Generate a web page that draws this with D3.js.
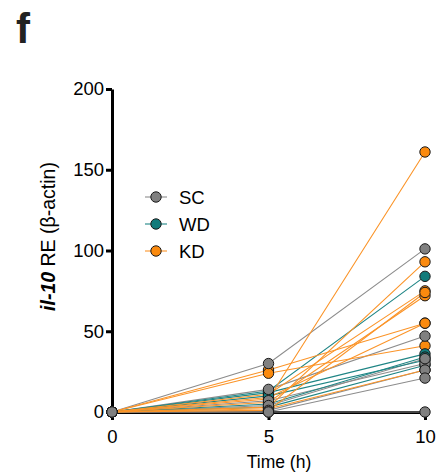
<!DOCTYPE html>
<html>
<head>
<meta charset="utf-8">
<script src="https://cdn.jsdelivr.net/npm/d3@7"></script>
<style>
  html, body { margin: 0; padding: 0; background: #fff; }
  svg { display: block; font-family: "Liberation Sans", Arial, sans-serif; }
</style>
</head>
<body>
<svg id="chart" width="440" height="476"></svg>
<script>
// ---- data ----
const timepoints = [0, 5, 10];
const xTickValues = [0, 5, 10];
const yTickValues = [0, 50, 100, 150, 200];
const groups = ["SC", "WD", "KD"];
// each subject: values at 0 h, 5 h, 10 h
const scSeries = [
  [0, 30, 101], [0, 14, 47], [0, 7, 30], [0, 4, 33],
  [0, 1, 26], [0, 0, 21], [0, 0, 0]
];
const wdSeries = [
  [0, 13, 84], [0, 12, 36], [0, 10, 32], [0, 5, 34], [0, 3, 29]
];
const kdSeries = [
  [0, 8, 161], [0, 3, 93], [0, 11, 75], [0, 6, 72], [0, 26, 55],
  [0, 24, 41], [0, 9, 55], [0, 2, 26], [0, 1, 74]
];

const seriesByGroup = { SC: scSeries, WD: wdSeries, KD: kdSeries };
const markerFill = { SC: "#808080", WD: "#127b7b", KD: "#fb8a0e" };
const lineColor = { SC: "#8c8c8c", WD: "#1f8585", KD: "#fb9428" };

const svg = d3.select("#chart");
const x = d3.scaleLinear().domain([0, 10]).range([112, 425]);
const y = d3.scaleLinear().domain([0, 200]).range([412, 89]);

// panel label
svg.append("text").attr("x", 16).attr("y", 43)
  .attr("font-size", 42).attr("font-weight", "bold").attr("fill", "#222").text("f");

// axes
const yAxis = svg.append("g").attr("transform", `translate(${x(0)},0)`)
  .call(d3.axisLeft(y).tickValues(yTickValues).tickSize(6).tickSizeOuter(0).tickPadding(2).tickFormat(d3.format("d")));
const xAxis = svg.append("g").attr("transform", `translate(0,${y(0)})`)
  .call(d3.axisBottom(x).tickValues(xTickValues).tickSize(8).tickSizeOuter(0).tickPadding(10).tickFormat(d3.format("d")));
[yAxis, xAxis].forEach(g => {
  g.select(".domain").attr("stroke", "#000").attr("stroke-width", 3);
  g.selectAll(".tick line").attr("stroke", "#000").attr("stroke-width", 3);
  g.selectAll(".tick text").attr("font-size", 18.5).attr("fill", "#000")
    .attr("font-family", "'Liberation Sans', Arial, sans-serif");
});
xAxis.selectAll(".tick text").attr("dy", "0.71em");

// axis titles
svg.append("text").attr("x", 279).attr("y", 468).attr("text-anchor", "middle")
  .attr("font-size", 17.5).attr("fill", "#000").text("Time (h)");
const yt = svg.append("text").attr("transform", "translate(55,236.5) rotate(-90)")
  .attr("text-anchor", "middle").attr("font-size", 19.5).attr("fill", "#000");
yt.append("tspan").attr("font-weight", "bold").attr("font-style", "italic").text("il-10");
yt.append("tspan").text(" RE (\u03b2-actin)");

// lines
const line = d3.line().x((d, i) => x(timepoints[i])).y(d => y(d));
groups.forEach(g => {
  svg.append("g").selectAll("path").data(seriesByGroup[g]).join("path")
    .attr("d", line).attr("fill", "none")
    .attr("stroke", lineColor[g]).attr("stroke-width", 1.1);
});

// markers (KD bottom, SC top)
["KD", "WD", "SC"].forEach(g => {
  const pts = [];
  seriesByGroup[g].forEach(s => s.forEach((v, i) => pts.push([timepoints[i], v])));
  svg.append("g").selectAll("circle").data(pts).join("circle")
    .attr("cx", d => x(d[0])).attr("cy", d => y(d[1])).attr("r", 5.2)
    .attr("fill", markerFill[g]).attr("stroke", "#1a1a1a").attr("stroke-width", 1);
});

// legend
const legendY = d3.scalePoint().domain(groups).range([197, 251]);
const leg = svg.append("g");
groups.forEach(g => {
  const yy = legendY(g);
  leg.append("line").attr("x1", 145).attr("x2", 167).attr("y1", yy).attr("y2", yy)
    .attr("stroke", lineColor[g]).attr("stroke-width", 1.1);
  leg.append("circle").attr("cx", 156).attr("cy", yy).attr("r", 5.2)
    .attr("fill", markerFill[g]).attr("stroke", "#1a1a1a").attr("stroke-width", 1);
  leg.append("text").attr("x", 179).attr("y", yy + 6.5)
    .attr("font-size", 18.5).attr("fill", "#000").text(g);
});
</script>
</body>
</html>
